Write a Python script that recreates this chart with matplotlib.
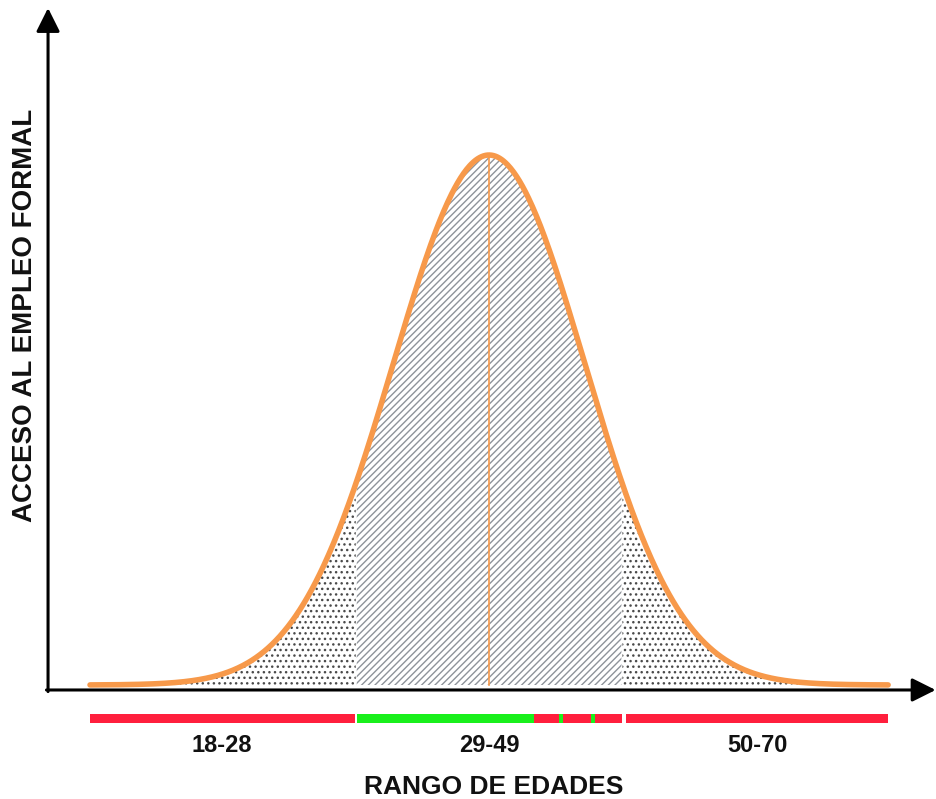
import numpy as np
import matplotlib
matplotlib.use('Agg')
import matplotlib.pyplot as plt

# curve: bell shape over an abstract 0-100 axis
mean = 50.0
sigma = 12.0
x_start, x_end = 0.0, 100.0
left_cut, right_cut = 33.3, 66.7

# age groups under the axis
group_labels = ['18-28', '29-49', '50-70']
group_centers = [16.5, 50.0, 83.6]

# coloured bar segments (start, end, colour)
bar_starts = [0.0, 33.5, 55.6, 59.3, 63.3, 67.1]
bar_ends = [33.2, 66.7, 58.8, 62.8, 66.7, 100.0]
bar_colors = ['#ff1f3d', '#19f01c', '#ff1f3d', '#ff1f3d', '#ff1f3d', '#ff1f3d']

x_label = 'RANGO DE EDADES'
y_label = 'ACCESO AL EMPLEO FORMAL'

ORANGE = '#f7994a'
plt.rcParams['font.family'] = ['Liberation Sans', 'DejaVu Sans']
plt.rcParams['hatch.linewidth'] = 1.0

fig = plt.figure(figsize=(9.36, 7.99), dpi=100)
ax = fig.add_axes([0, 0, 1, 1])
ax.set_xlim(-11.28, 106.0)
ax.set_ylim(-0.2151, 1.2925)
ax.axis('off')

x = np.linspace(x_start, x_end, 800)
y = np.exp(-(x - mean) ** 2 / (2 * sigma ** 2))

# dotted tails
left = x <= left_cut
right = x >= right_cut
mid = (x >= left_cut) & (x <= right_cut)
ax.fill_between(x[left], 0, y[left], facecolor='none', edgecolor='#4a4a4a', hatch='...', lw=0)
ax.fill_between(x[right], 0, y[right], facecolor='none', edgecolor='#4a4a4a', hatch='...', lw=0)
# striped middle
ax.fill_between(x[mid], 0, y[mid], facecolor='none', edgecolor='#8e939a', hatch='/////', lw=0)

ax.plot([mean, mean], [0, 1.0], color=ORANGE, lw=1.2, zorder=4)
ax.plot(x, y, color=ORANGE, lw=4.0, solid_capstyle='round', zorder=5)

# axes arrows
ax_x = -5.26
ax_y = -0.0094
arrow = dict(arrowstyle='-|>,head_length=0.6,head_width=0.3', lw=2.2, color='black',
             mutation_scale=24, shrinkA=0, shrinkB=0)
ax.annotate('', xy=(ax_x, 1.2774), xytext=(ax_x, ax_y - 0.003), arrowprops=arrow,
            annotation_clip=False)
ax.annotate('', xy=(105.95, ax_y), xytext=(ax_x - 0.2, ax_y), arrowprops=arrow,
            annotation_clip=False)

# coloured bar
bar_y = -0.0632
bar_h = 0.017
for s, e, c in zip(bar_starts, bar_ends, bar_colors):
    ax.broken_barh([(s, e - s)], (bar_y - bar_h / 2, bar_h), facecolors=c, zorder=3)

for lab, cx in zip(group_labels, group_centers):
    ax.text(cx, -0.1135, lab, ha='center', va='center', fontsize=17, fontweight='bold', color='#111111')

ax.text(50.6, -0.193, x_label, ha='center', va='center', fontsize=19, fontweight='bold', color='#111111')
ax.text(-8.15, 0.698, y_label, ha='center', va='center', rotation=90, fontsize=20,
        fontweight='bold', color='#111111')

fig.savefig('out.png', dpi=100, facecolor='white')
